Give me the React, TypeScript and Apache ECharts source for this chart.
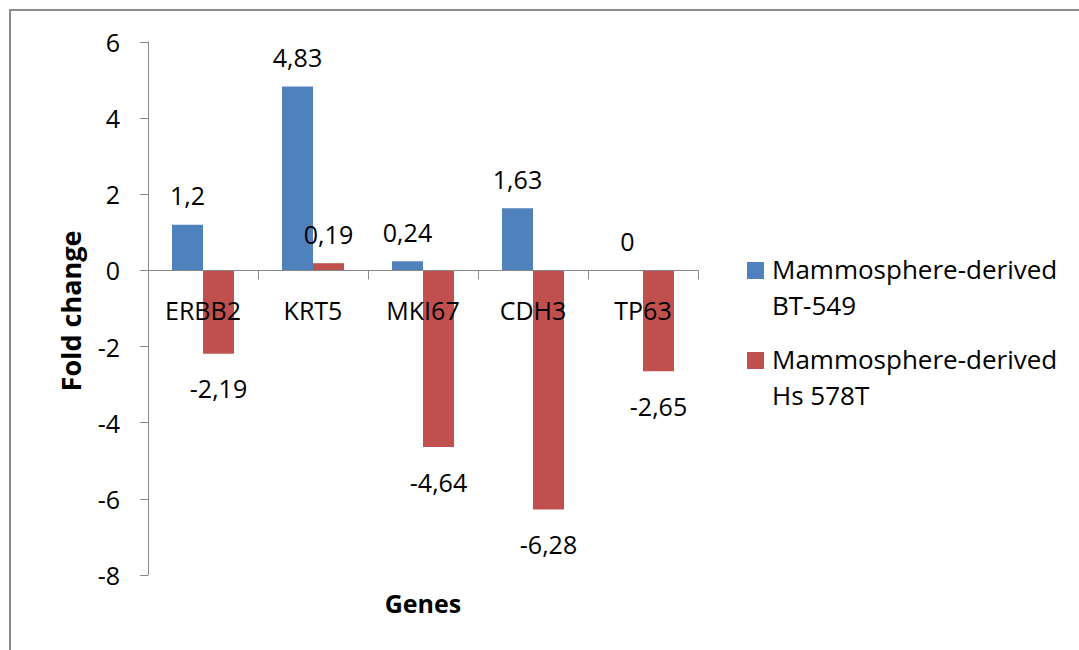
import React, { useEffect, useRef } from "react";
import * as echarts from "echarts";

const categories = ["ERBB2", "KRT5", "MKI67", "CDH3", "TP63"];
const seriesNames = ["Mammosphere-derived BT-549", "Mammosphere-derived Hs 578T"];
const legendLines = [
  ["Mammosphere-derived", "BT-549"],
  ["Mammosphere-derived", "Hs 578T"],
];
const bt549 = [1.2, 4.83, 0.24, 1.63, 0];
const hs578t = [-2.19, 0.19, -4.64, -6.28, -2.65];
const colors = ["#4F81BD", "#C0504D"];
const yTicks = { min: -8, max: 6, interval: 2 };

const FONT = "'Open Sans', 'Noto Sans', sans-serif";
const GRID = { left: 148, right: 381, top: 42, bottom: 75 };
const H = 650;

function fmt(v: number) {
  return String(v).replace(".", ",");
}

function toData(vals: number[]) {
  return vals.map((v) => ({
    value: v,
    label: { position: v < 0 ? "bottom" : "top", distance: v < 0 ? 22 : 17 },
  }));
}

export default function App() {
  const ref = useRef<HTMLDivElement>(null);
  useEffect(() => {
    if (!ref.current) return;
    const chart = echarts.init(ref.current, undefined, { renderer: "svg" });
    const plotH = H - GRID.top - GRID.bottom;
    const zeroOffset = -(plotH * (0 - yTicks.min)) / (yTicks.max - yTicks.min);
    const labelStyle = {
      show: true,
      fontSize: 25,
      fontFamily: FONT,
      color: "#000",
      formatter: (p: any) => fmt(p.value),
    };
    chart.setOption({
      animation: false,
      backgroundColor: "#fff",
      grid: { ...GRID, containLabel: false },
      xAxis: {
        type: "category",
        data: categories,
        position: "bottom",
        offset: zeroOffset,
        z: 10,
        axisLine: { onZero: false, lineStyle: { color: "#888", width: 1 } },
        axisTick: { show: true, length: 9, lineStyle: { color: "#888" }, alignWithLabel: false },
        axisLabel: { fontSize: 25, fontFamily: FONT, color: "#000", margin: 27 },
        splitLine: { show: false },
      },
      yAxis: {
        type: "value",
        min: yTicks.min,
        max: yTicks.max,
        interval: yTicks.interval,
        axisLine: { show: true, lineStyle: { color: "#888", width: 1 } },
        axisTick: { show: true, length: 8, lineStyle: { color: "#888" } },
        axisLabel: { fontSize: 25, fontFamily: FONT, color: "#000", margin: 28 },
        splitLine: { show: false },
      },
      series: [
        {
          name: seriesNames[0],
          type: "bar",
          data: toData(bt549),
          barWidth: 31,
          barGap: "0%",
          itemStyle: { color: colors[0] },
          label: labelStyle,
        },
        {
          name: seriesNames[1],
          type: "bar",
          data: toData(hs578t),
          barWidth: 31,
          barGap: "0%",
          itemStyle: { color: colors[1] },
          label: labelStyle,
        },
      ],
      graphic: [
        { type: "line", shape: { x1: 9, y1: 10, x2: 1079, y2: 10 }, style: { stroke: "#8c8c8c", lineWidth: 2 } },
        { type: "line", shape: { x1: 10, y1: 9, x2: 10, y2: 650 }, style: { stroke: "#8c8c8c", lineWidth: 2 } },
        {
          type: "text",
          x: 70,
          y: 311,
          rotation: Math.PI / 2,
          style: {
            text: "Fold change",
            fontSize: 27,
            fontWeight: "bold",
            fontFamily: FONT,
            fill: "#000",
            align: "center",
            verticalAlign: "middle",
          },
        },
        {
          type: "text",
          x: 423,
          y: 603,
          style: {
            text: "Genes",
            fontSize: 25,
            fontWeight: "bold",
            fontFamily: FONT,
            fill: "#000",
            align: "center",
            verticalAlign: "middle",
          },
        },
        ...legendLines.flatMap((lines, i) => [
          {
            type: "rect",
            shape: { x: 747, y: 262 + i * 90, width: 17, height: 17 },
            style: { fill: colors[i] },
          },
          ...lines.map((line, j) => ({
            type: "text",
            x: 772,
            y: 269 + i * 90 + j * 36,
            style: {
              text: line,
              fontSize: 26,
              fontFamily: FONT,
              fill: "#000",
              align: "left",
              verticalAlign: "middle",
            },
          })),
        ]),
      ],
    });
    return () => chart.dispose();
  }, []);
  return (
    <div
      ref={ref}
      style={{ position: "fixed", left: 0, top: 0, width: 1079, height: 650, background: "#fff" }}
    />
  );
}
